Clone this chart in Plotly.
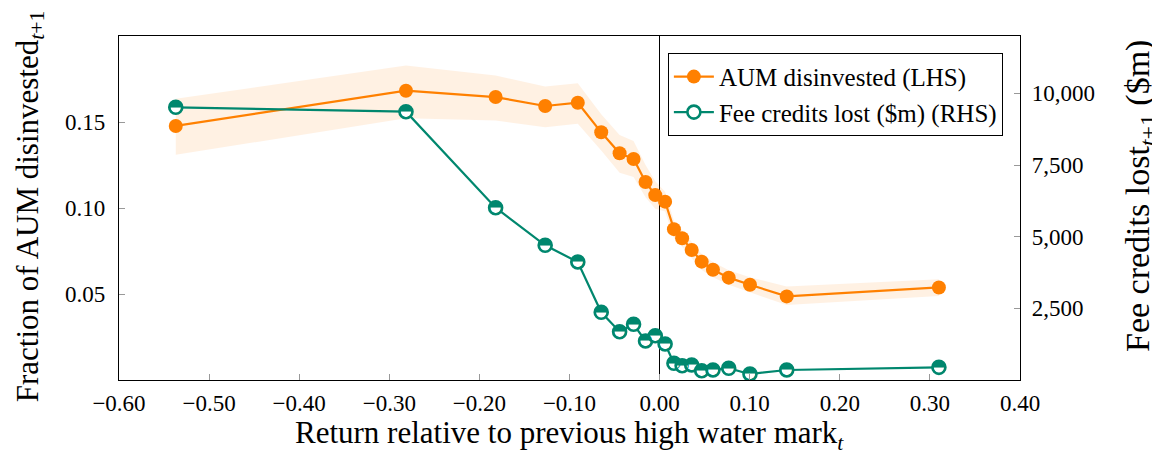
import plotly.graph_objects as go

# ---- data ----
ret_rel_hwm = [-0.537, -0.2815, -0.182, -0.127, -0.0908, -0.0648, -0.0444, -0.0289, -0.0156, -0.0048,
               0.0061, 0.0159, 0.025, 0.0356, 0.0467, 0.0592, 0.0767, 0.1003, 0.1411, 0.310]
aum_disinvested = [0.1477, 0.1682, 0.1645, 0.1593, 0.1612, 0.1440, 0.1318, 0.1285, 0.1151, 0.1075,
                   0.1037, 0.0877, 0.0824, 0.0756, 0.0688, 0.0641, 0.0595, 0.0554, 0.0486, 0.0538]
aum_lower = [0.1309, 0.1522, 0.1509, 0.1470, 0.1490, 0.1335, 0.1205, 0.1180, 0.1063, 0.0995,
             0.0980, 0.0825, 0.0775, 0.0710, 0.0640, 0.0597, 0.0554, 0.0510, 0.0436, 0.0488]
aum_upper = [0.1635, 0.1828, 0.1770, 0.1706, 0.1726, 0.1545, 0.1425, 0.1390, 0.1250, 0.1155,
             0.1095, 0.0925, 0.0870, 0.0800, 0.0733, 0.0686, 0.0638, 0.0597, 0.0543, 0.0586]
fee_credits_lost = [9512, 9359, 6010, 4698, 4116, 2361, 1685, 1943, 1360, 1545,
                    1256, 582, 498, 523, 324, 349, 408, 209, 349, 442]

x_ticks = [-0.6, -0.5, -0.4, -0.3, -0.2, -0.1, 0.0, 0.1, 0.2, 0.3, 0.4]
x_ticktext = ["\u22120.60", "\u22120.50", "\u22120.40", "\u22120.30", "\u22120.20", "\u22120.10",
              "0.00", "0.10", "0.20", "0.30", "0.40"]
y_ticks = [0.05, 0.10, 0.15]
y_ticktext = ["0.05", "0.10", "0.15"]
y2_ticks = [2500, 5000, 7500, 10000]
y2_ticktext = ["2,500", "5,000", "7,500", "10,000"]

ORANGE = "#FF8000"
TEAL = "#00876E"
BAND = "rgba(255,128,0,0.11)"
FONT = "Liberation Serif"

fig = go.Figure()

# confidence band
fig.add_trace(go.Scatter(x=ret_rel_hwm, y=aum_upper, mode="lines", line=dict(width=0),
                         showlegend=False, hoverinfo="skip"))
fig.add_trace(go.Scatter(x=ret_rel_hwm, y=aum_lower, mode="lines", line=dict(width=0),
                         fill="tonexty", fillcolor=BAND, showlegend=False, hoverinfo="skip"))

fig.add_trace(go.Scatter(x=ret_rel_hwm, y=aum_disinvested, mode="lines+markers",
                         name="AUM disinvested (LHS)",
                         line=dict(color=ORANGE, width=2.2),
                         marker=dict(symbol="circle", size=14, color=ORANGE)))

fig.add_trace(go.Scatter(x=ret_rel_hwm, y=fee_credits_lost, mode="lines+markers", yaxis="y2",
                         name="Fee credits lost ($m) (RHS)",
                         line=dict(color=TEAL, width=2.2),
                         marker=dict(symbol="circle", size=13, color="white",
                                     line=dict(color=TEAL, width=2.6))))
# upper-half fill of the markers
fig.add_trace(go.Scatter(x=ret_rel_hwm, y=fee_credits_lost, mode="text", yaxis="y2",
                         text=["\u25D3"] * len(ret_rel_hwm), textposition="middle center",
                         textfont=dict(family="DejaVu Sans", size=17, color=TEAL),
                         showlegend=False, hoverinfo="skip"))

TICKFONT = dict(family=FONT, size=23, color="black")

fig.update_layout(
    width=1152, height=447,
    margin=dict(l=111, r=140, t=28, b=75),
    paper_bgcolor="white", plot_bgcolor="white",
    font=dict(family=FONT, size=23, color="black"),
    showlegend=True,
    legend=dict(x=0.981, y=0.951, xanchor="right", yanchor="top", traceorder="normal",
                bgcolor="white", bordercolor="black", borderwidth=1,
                font=dict(family=FONT, size=25), tracegroupgap=0, itemwidth=40),
    xaxis=dict(range=[-0.6, 0.4], tickvals=x_ticks, ticktext=x_ticktext, tickfont=TICKFONT,
               showgrid=False, zeroline=True, zerolinecolor="black", zerolinewidth=1.2,
               showline=True, linecolor="black", linewidth=1.2, mirror=True,
               ticks="inside", ticklen=6, tickcolor="#999999", tickwidth=1,
               ticklabelstandoff=2, automargin=False),
    yaxis=dict(range=[0, 0.2], tickvals=y_ticks, ticktext=y_ticktext, tickfont=TICKFONT,
               showgrid=False, zeroline=False,
               showline=True, linecolor="black", linewidth=1.2,
               ticks="inside", ticklen=6, tickcolor="#999999", tickwidth=1,
               ticklabelstandoff=8, automargin=False),
    yaxis2=dict(range=[0, 12000], tickvals=y2_ticks, ticktext=y2_ticktext, tickfont=TICKFONT,
                overlaying="y", side="right", anchor="x",
                showgrid=False, zeroline=False,
                showline=True, linecolor="black", linewidth=1.2,
                ticks="inside", ticklen=6, tickcolor="#999999", tickwidth=1,
                ticklabelstandoff=6, automargin=False),
    annotations=[
        dict(text="Return relative to previous high water mark<sub><i>t</i></sub>",
             x=0.5, y=-0.16, xref="paper", yref="paper", xanchor="center", yanchor="middle",
             showarrow=False, font=dict(family=FONT, size=31)),
        dict(text="Fraction of AUM disinvested<sub><i>t</i>+1</sub>",
             x=-0.0988, y=0.505, xref="paper", yref="paper", xanchor="center", yanchor="middle",
             textangle=-90, showarrow=False, font=dict(family=FONT, size=31)),
        dict(text="Fee credits lost<sub><i>t</i>+1</sub> ($m)",
             x=1.1332, y=0.535, xref="paper", yref="paper", xanchor="center", yanchor="middle",
             textangle=-90, showarrow=False, font=dict(family=FONT, size=34)),
    ],
)

fig.write_html("out.html")
